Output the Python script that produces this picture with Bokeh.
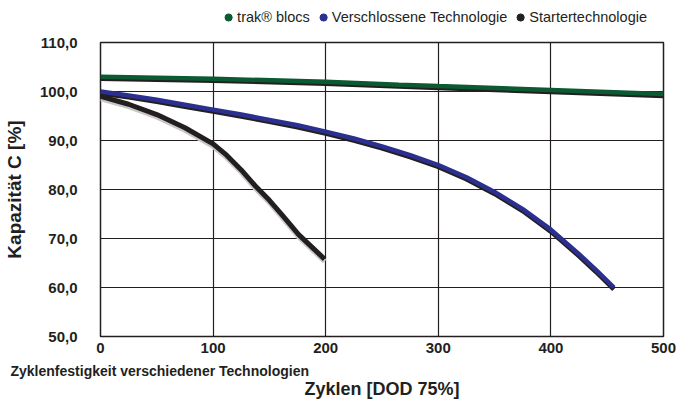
from bokeh.plotting import figure
from bokeh.layouts import column
from bokeh.models import FixedTicker, Legend, LegendItem, Title, Range1d
from bokeh.embed import file_html
from bokeh.resources import INLINE

# Data
trak_x = [0, 100, 200, 265, 300, 400, 500]
trak_y = [103.0, 102.6, 102.0, 101.4, 101.1, 100.3, 99.5]

vrla_x = [0, 25, 50, 75, 100, 125, 150, 175, 200, 225, 250, 275, 300, 325, 350, 375, 400, 425, 440, 456]
vrla_y = [100.0, 99.2, 98.3, 97.3, 96.3, 95.3, 94.2, 93.1, 91.8, 90.4, 88.8, 87.0, 85.0, 82.5, 79.5, 76.0, 71.8, 66.8, 63.6, 60.0]

start_x = [0, 25, 50, 75, 100, 112, 125, 138, 150, 162, 176, 188, 199]
start_y = [99.0, 97.4, 95.3, 92.6, 89.3, 87.0, 84.0, 80.6, 77.8, 74.6, 70.8, 68.2, 65.8]

names = ["trak® blocs", "Verschlossene Technologie", "Startertechnologie"]
colors = ["#0b5a32", "#2b2f8f", "#231f20"]

y_ticks = [50, 60, 70, 80, 90, 100, 110]
x_ticks = [0, 100, 200, 300, 400, 500]

FONT = "Liberation Sans"
TXT = "#231f20"
W = 676

# ---- legend strip (dots only live in the legend; the data point sits outside the view) ----
lg = figure(width=W, height=34, output_backend="svg", toolbar_location=None,
            x_axis_type=None, y_axis_type=None, min_border=0,
            x_range=Range1d(0, 1), y_range=Range1d(0, 1))
lg.outline_line_color = None
lg.grid.visible = False
items = []
for n, c in zip(names, colors):
    r = lg.scatter([-5], [-5], marker="circle", size=8, fill_color=c, line_color=c)
    items.append(LegendItem(label=n, renderers=[r]))
legend = Legend(items=items, orientation="horizontal", location="right",
                label_text_font=FONT, label_text_font_size="14.5px",
                label_text_color=TXT, border_line_color=None,
                background_fill_alpha=0, glyph_width=18, glyph_height=18,
                label_height=14, label_standoff=0, spacing=4, padding=0, margin=16)
lg.add_layout(legend, "center")

# ---- main chart ----
p = figure(width=W, height=380, output_backend="svg", toolbar_location=None,
           x_range=(0, 500), y_range=(50, 110),
           min_border_left=97, min_border_right=13, min_border_top=8, min_border_bottom=78)
p.background_fill_color = "white"
p.border_fill_color = "white"
p.outline_line_color = TXT
p.outline_line_width = 1.5

p.xaxis.ticker = FixedTicker(ticks=x_ticks)
p.yaxis.ticker = FixedTicker(ticks=y_ticks)
p.yaxis.major_label_overrides = {t: f"{t},0" for t in y_ticks}
for ax in (p.xaxis[0], p.yaxis[0]):
    ax.axis_line_color = None
    ax.major_tick_line_color = None
    ax.minor_tick_line_color = None
    ax.major_label_text_font = FONT
    ax.major_label_text_font_style = "bold"
    ax.major_label_text_font_size = "15px"
    ax.major_label_text_color = TXT
p.yaxis.major_label_standoff = 17
p.xaxis.major_label_standoff = 0
p.yaxis.axis_label = "Kapazität C [%]"
p.yaxis.axis_label_text_font = FONT
p.yaxis.axis_label_text_font_style = "bold"
p.yaxis.axis_label_text_font_size = "19px"
p.yaxis.axis_label_text_color = TXT
p.yaxis.axis_label_standoff = 12

p.xgrid.grid_line_color = TXT
p.ygrid.grid_line_color = TXT
p.xgrid.grid_line_width = 1.2
p.ygrid.grid_line_width = 1.2

off = 0.35
p.line(start_x, [v - 0.5 for v in start_y], line_color="#c8c8c8", line_width=5, line_join="round")
p.line(trak_x, [v - off for v in trak_y], line_color=TXT, line_width=5)
p.line(trak_x, trak_y, line_color=colors[0], line_width=4.5)
p.line(vrla_x, [v - off for v in vrla_y], line_color=TXT, line_width=5, line_join="round")
p.line(vrla_x, vrla_y, line_color=colors[1], line_width=4.5, line_join="round")
p.line(start_x, start_y, line_color=colors[2], line_width=5, line_join="round")

cap = Title(text="Zyklenfestigkeit verschiedener Technologien", align="left",
            offset=-90, standoff=10, text_font=FONT, text_font_style="bold",
            text_font_size="14px", text_color=TXT)
p.add_layout(cap, "below")
xt = Title(text="Zyklen [DOD 75%]", align="center", standoff=-13,
           text_font=FONT, text_font_style="bold", text_font_size="18px", text_color=TXT)
p.add_layout(xt, "below")

open("out.html", "w").write(file_html(column(lg, p, spacing=0), INLINE))
